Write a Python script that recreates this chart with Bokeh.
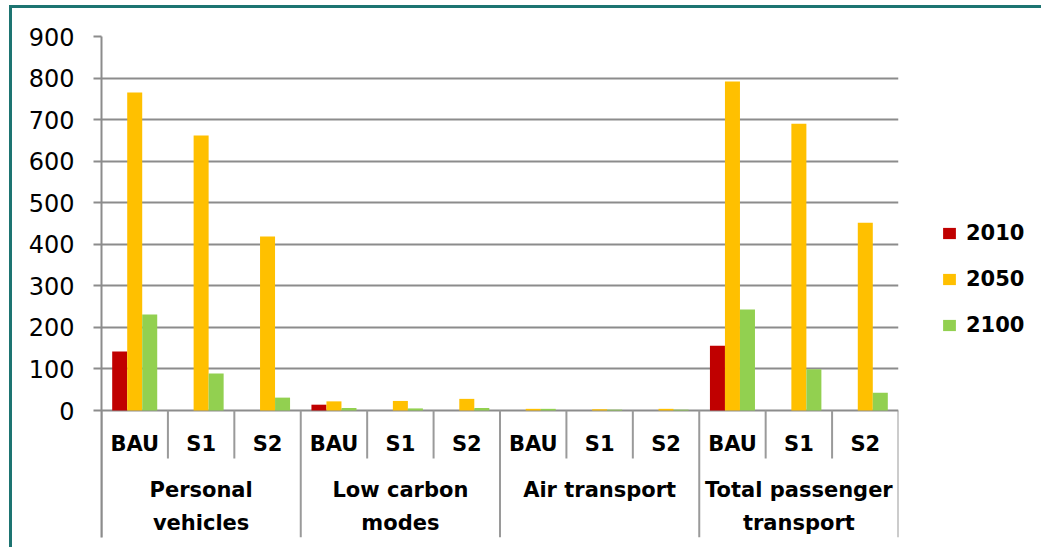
from bokeh.plotting import figure
from bokeh.models import FactorRange, Range1d, FixedTicker, ColumnDataSource, Legend, LegendItem
from bokeh.transform import dodge
from bokeh.core.properties import value
from bokeh.embed import file_html
from bokeh.resources import INLINE

groups = ["Personal vehicles", "Low carbon modes", "Air transport", "Total passenger transport"]
group_labels = ["Personal\nvehicles", "Low carbon\nmodes", "Air transport", "Total passenger\ntransport"]
scenarios = ["BAU", "S1", "S2"]
years = ["2010", "2050", "2100"]

v2010 = [142, 0, 0, 14, 0, 0, 0, 0, 0, 156, 0, 0]
v2050 = [765, 662, 419, 22, 23, 28, 4, 3, 4, 792, 690, 452]
v2100 = [231, 89, 31, 6, 5, 6, 4, 2, 2, 243, 99, 43]

y_ticks = [0, 100, 200, 300, 400, 500, 600, 700, 800, 900]
colors = ["#C00000", "#FFC000", "#92D050"]

FONT = "DejaVu Sans"
GRAY = "#8c8c8c"

factors = [(g, s) for g in groups for s in scenarios]
src = ColumnDataSource(dict(x=factors, v2010=v2010, v2050=v2050, v2100=v2100,
                            scen=[f[1] for f in factors]))

xr = FactorRange(*factors, factor_padding=0, group_padding=0, subgroup_padding=0, range_padding=0)
y_bottom = -305.6
p = figure(x_range=xr, y_range=Range1d(y_bottom, 900), frame_width=797, frame_height=501,
           output_backend="svg", toolbar_location=None, x_axis_location=None,
           min_border_left=89, min_border_top=28, min_border_bottom=10, min_border_right=0)
p.styles = {"margin-left": "9px", "margin-top": "5px",
            "border-left": "3px solid #1d7471", "border-top": "3px solid #1d7471"}
p.outline_line_color = None
p.background_fill_color = "white"
p.border_fill_color = "white"

ticker = FixedTicker(ticks=y_ticks)
p.yaxis.ticker = ticker
p.ygrid.ticker = ticker
p.ygrid.grid_line_color = GRAY
p.ygrid.grid_line_width = 2
p.xgrid.visible = False
p.yaxis.axis_line_color = GRAY
p.yaxis.axis_line_width = 2
p.yaxis.major_tick_line_color = GRAY
p.yaxis.major_tick_line_width = 2
p.yaxis.major_tick_out = 8
p.yaxis.major_tick_in = 0
p.yaxis.minor_tick_line_color = None
p.yaxis.major_label_text_font = FONT
p.yaxis.major_label_text_font_size = "24px"
p.yaxis.major_label_text_color = "black"
p.yaxis.major_label_standoff = 19

bw = 0.226
rs = []
for i, (yr, col) in enumerate(zip(years, colors)):
    r = p.vbar(x=dodge("x", (i - 1) * bw, range=xr), top="v" + yr, bottom=0, width=bw,
               source=src, fill_color=col, line_color=None)
    rs.append(r)

# separators of the category axis
sub_src = ColumnDataSource(dict(x=[f for f in factors if f[1] != scenarios[0]]))
grp_src = ColumnDataSource(dict(x=[f for f in factors if f[1] == scenarios[0]]))
end_src = ColumnDataSource(dict(x=[factors[-1]]))
SEP = "#9a9a9a"
p.segment(x0=dodge("x", -0.5, range=xr), x1=dodge("x", -0.5, range=xr), y0=0, y1=-115.5,
          source=sub_src, line_color=SEP, line_width=2)
p.segment(x0=dodge("x", -0.5, range=xr), x1=dodge("x", -0.5, range=xr), y0=0, y1=y_bottom,
          source=grp_src, line_color=SEP, line_width=2)
p.segment(x0=dodge("x", 0.5, range=xr), x1=dodge("x", 0.5, range=xr), y0=0, y1=y_bottom,
          source=end_src, line_color=SEP, line_width=2)

p.text(x="x", y=0, text="scen", source=src, y_offset=33, text_align="center",
       text_baseline="middle", text_font=value(FONT), text_font_style="bold",
       text_font_size="21px", text_color="black")
gsrc = ColumnDataSource(dict(x=groups, t=group_labels))
p.text(x="x", y=0, text="t", source=gsrc, y_offset=67, text_align="center",
       text_baseline="top", text_line_height=1.4, text_font=value(FONT),
       text_font_style="bold", text_font_size="21px", text_color="black")

legend = Legend(items=[LegendItem(label=yr, renderers=[r]) for yr, r in zip(years, rs)],
                location=(43, 200), margin=0, padding=10, spacing=22,
                glyph_width=16, glyph_height=14, label_standoff=9,
                label_text_font=FONT, label_text_font_style="bold",
                label_text_font_size="21px", label_text_color="black",
                border_line_color=None, background_fill_alpha=0)
p.add_layout(legend, "right")

open("out.html", "w").write(file_html(p, INLINE))
